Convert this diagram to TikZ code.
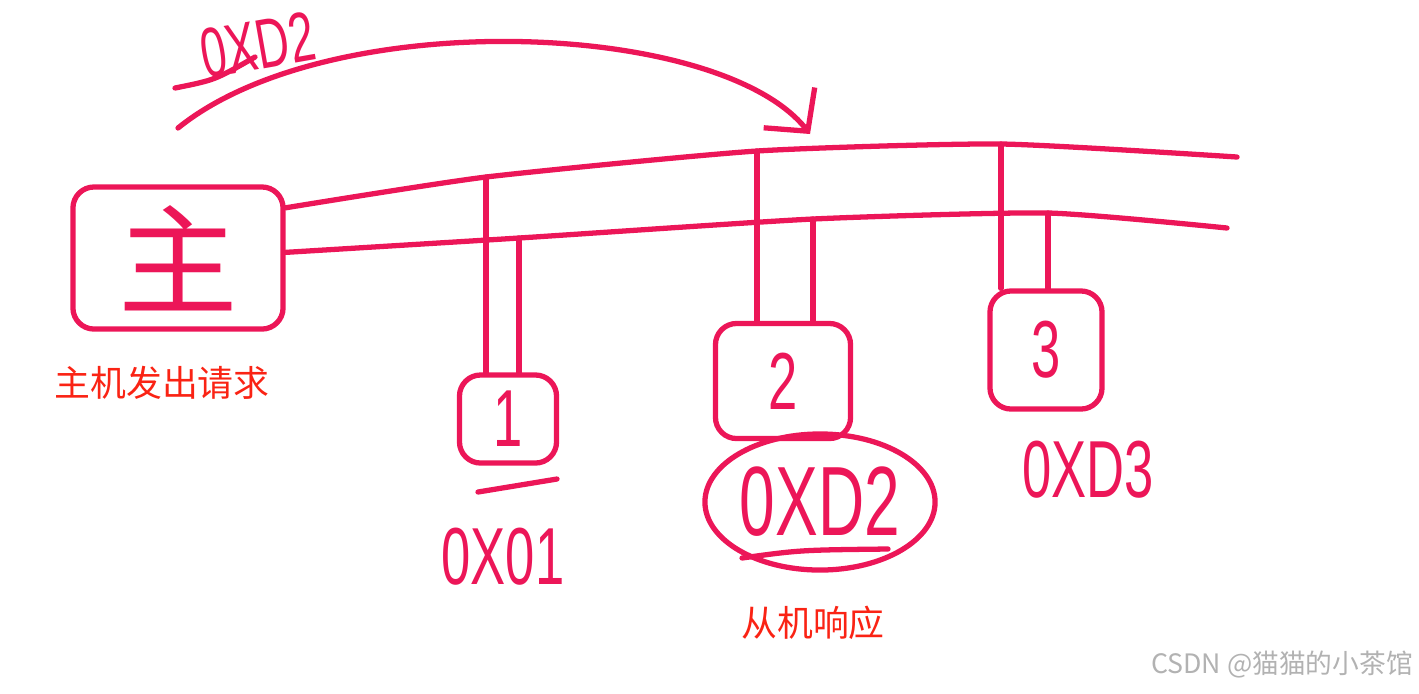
\documentclass[tikz,border=0pt]{standalone}
\usepackage{fontspec}
\usepackage{tikz}
\usetikzlibrary{shapes.geometric,arrows.meta}
\setmainfont{Liberation Sans}
\newfontfamily\cjk{Noto Sans CJK SC}
\newfontfamily\handfont[FakeStretch=0.65]{Liberation Sans}
\definecolor{ink}{RGB}{236,22,88}
\definecolor{notered}{RGB}{250,35,20}

\begin{document}
\begin{tikzpicture}
  [x=0.01cm,y=-0.01cm,
   wire/.style={draw=ink,line width=1.5pt,line cap=round,line join=round},
   box/.style={wire,rectangle,rounded corners=6pt,inner sep=0pt},
   hand/.style={text=ink,font=\handfont\fontsize{23}{27}\selectfont},
   note/.style={text=notered,font=\cjk\fontsize{10.2}{12}\selectfont}]

  \useasboundingbox (0,0) rectangle (1419,693);

  \node[box,hand,minimum width=2.1cm,minimum height=1.42cm,
        font=\cjk\fontsize{34}{36}\selectfont] (m) at (178,258) {主};
  \node[box,hand,minimum width=0.97cm,minimum height=0.88cm] (s1) at (508,419) {1};
  \node[box,hand,minimum width=1.35cm,minimum height=1.15cm] (s2) at (783,381) {2};
  \node[box,hand,minimum width=1.12cm,minimum height=1.18cm] (s3) at (1046,350) {3};
  \node[wire,ellipse,hand,inner sep=0pt,minimum width=2.3cm,minimum height=1.36cm,
        font=\handfont\fontsize{28}{30}\selectfont] (e2) at (820,502) {0XD2};

  \node[hand] (l1) at (503,557) {0X01};
  \node[hand] (l3) at (1088,470) {0XD3};
  \node[hand,rotate=10,font=\handfont\fontsize{20}{22}\selectfont] (l0) at (258,45) {0XD2};

  \node[note] (nm) at (162,383) {主机发出请求};
  \node[note] (ns) at (813,623) {从机响应};
  \node[text=black!30,font=\cjk\fontsize{7.6}{9}\selectfont] (wm) at (1282,665) {CSDN @猫猫的小茶馆};

  % bus taps
  \coordinate (t1) at (486,177);
  \coordinate (t2) at (757,151);
  \coordinate (t3) at (1001,144);
  \coordinate (tEnd) at (1237,157);
  \coordinate (b1) at (519,238);
  \coordinate (b2) at (813,219);
  \coordinate (b3) at (1048,213);
  \coordinate (bEnd) at (1227,228);

  \draw[wire] plot[smooth,tension=0.35] coordinates {(m.25) (t1) (t2) (t3) (tEnd)};
  \draw[wire] plot[smooth,tension=0.35] coordinates {(m.3) (b1) (b2) (b3) (bEnd)};

  \foreach \tap/\slave in {t1/s1,b1/s1,t2/s2,b2/s2,t3/s3,b3/s3}
    \draw[wire] (\tap) -- (\tap |- \slave.north);

  % request arrow
  \coordinate (aStart) at (178,128);
  \coordinate (aEnd) at (810,134);
  \draw[wire,-{Straight Barb[length=3mm,width=6.5mm]}]
    (aStart) .. controls (330,5) and (720,20) .. (aEnd);

  \draw[wire] (175,88) .. controls (215,80) .. (255,57);
  \draw[wire] (478,492) -- (557,479);
  \draw[wire] (742,558) .. controls (800,550) .. (888,549);
\end{tikzpicture}
\end{document}
